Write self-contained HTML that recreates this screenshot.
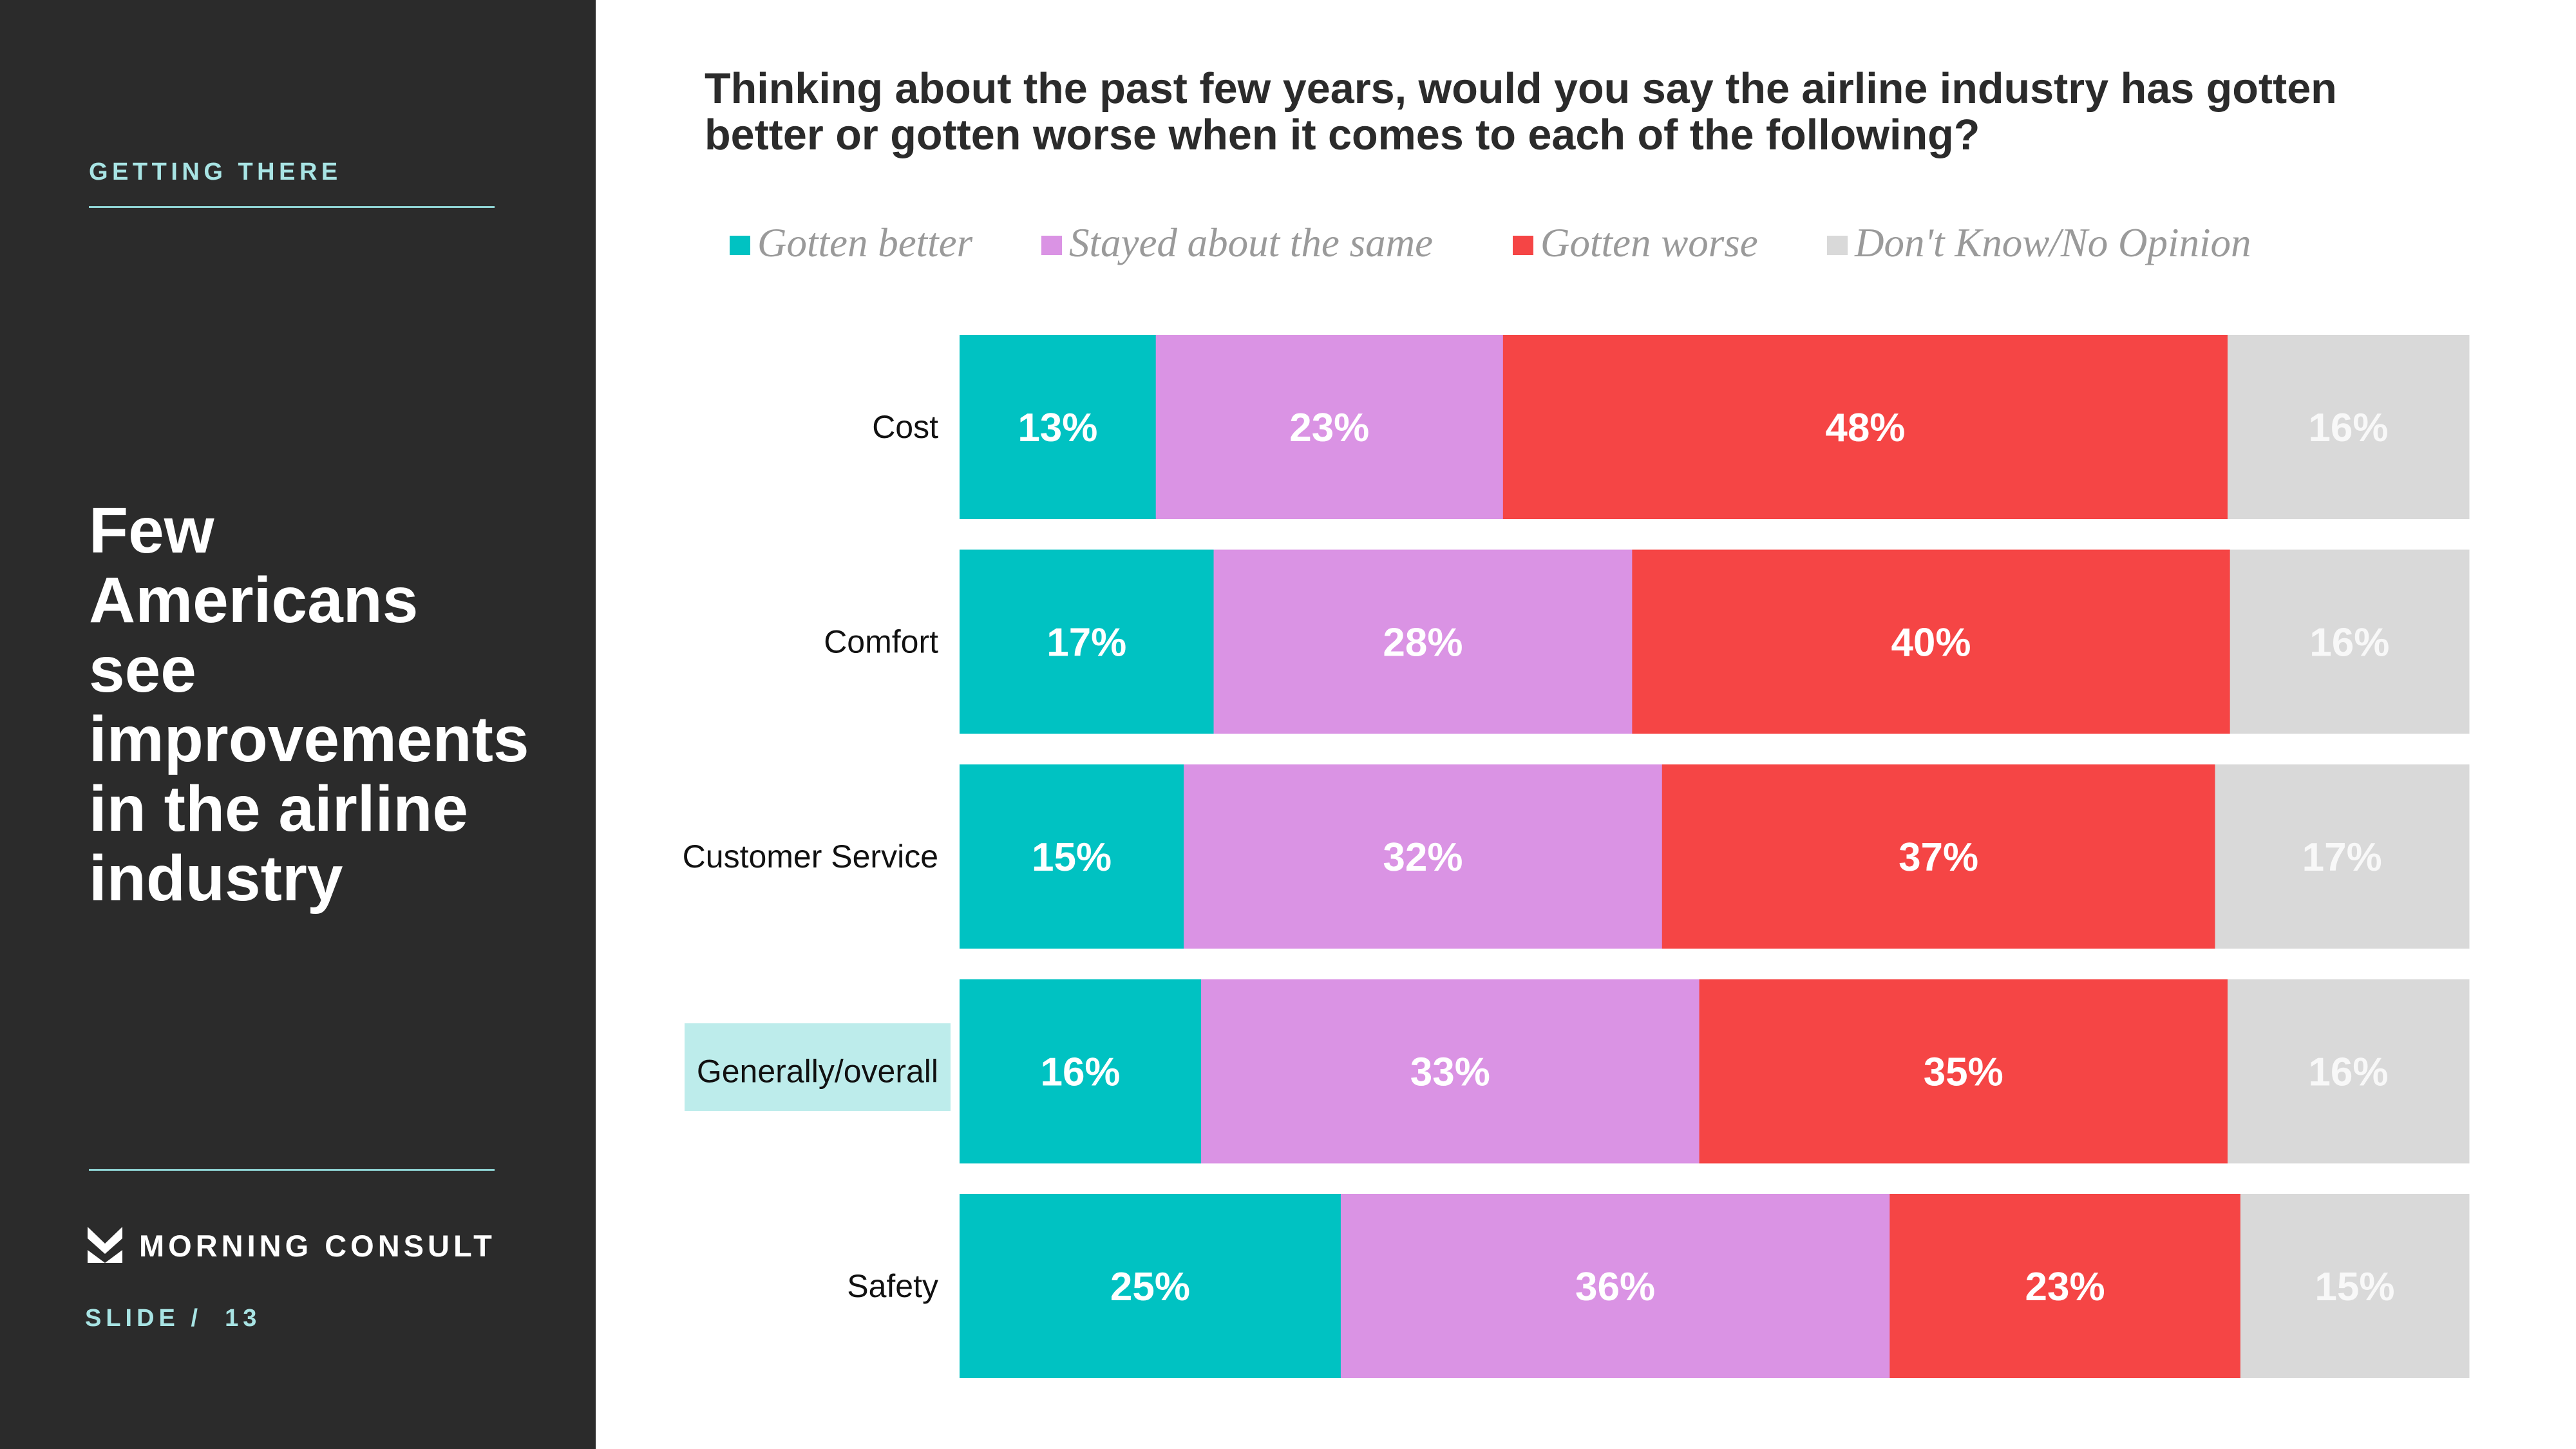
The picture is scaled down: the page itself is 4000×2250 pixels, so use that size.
<!DOCTYPE html>
<html><head><meta charset="utf-8"><style>
*{margin:0;padding:0;box-sizing:border-box}
body{width:4000px;height:2250px;background:#fff;font-family:"Liberation Sans",sans-serif;position:relative;overflow:hidden}
.abs{position:absolute}
</style></head><body>
<div class="abs" style="left:0;top:0;width:925px;height:2250px;background:#2b2b2b">
  <div class="abs" style="left:138px;top:246px;font-size:38px;font-weight:bold;letter-spacing:6.5px;color:#a8e4e4">GETTING THERE</div>
  <div class="abs" style="left:138px;top:320px;width:630px;height:3px;background:#8fd3d3"></div>
  <div class="abs" style="left:138px;top:770px;font-size:100px;line-height:108px;font-weight:bold;color:#fff">Few<br>Americans<br>see<br>improvements<br>in the airline<br>industry</div>
  <div class="abs" style="left:138px;top:1815px;width:630px;height:3px;background:#8fd3d3"></div>
  <svg class="abs" style="left:136px;top:1905px" width="54" height="56" viewBox="0 0 54 56"><polygon points="0,0 27,26 54,0 54,18 27,42 0,18" fill="#fff"/><polygon points="0,36 27,56 0,56" fill="#fff"/><polygon points="54,36 27,56 54,56" fill="#fff"/></svg>
  <div class="abs" style="left:216px;top:1907px;font-size:47px;font-weight:bold;letter-spacing:6px;color:#fff">MORNING CONSULT</div>
  <div class="abs" style="left:132px;top:2026px;font-size:38px;font-weight:bold;letter-spacing:7px;color:#a8e4e4">SLIDE / &nbsp;13</div>
</div>
<div class="abs" style="left:1094px;top:102px;font-size:66.5px;line-height:72px;font-weight:bold;color:#2b2b2b">Thinking about the past few years, would you say the airline industry has gotten<br>better or gotten worse when it comes to each of the following?</div>
<div class="abs" style="left:1063px;top:1589px;width:413px;height:136px;background:#bdeceb"></div>
<svg class="abs" id="chart" style="left:0;top:0" width="4000" height="2250"></svg>
<script>
const categories=["Cost","Comfort","Customer Service","Generally/overall","Safety"];
const seriesNames=["Gotten better","Stayed about the same","Gotten worse","Don't Know/No Opinion"];
const better=[13,17,15,16,25];
const same=[23,28,32,33,36];
const worse=[48,40,37,35,23];
const dontKnow=[16,16,17,16,15];
const colors=["#00c2c2","#da93e4","#f54545","#d9d9d9"];
const series=[better,same,worse,dontKnow];
const svg=document.getElementById('chart');
const NS='http://www.w3.org/2000/svg';
const X0=1490,X1=3834,Y0=520,BH=286,STEP=333.5;
function xs(v,tot){return (X1-X0)*v/tot;}
function yRow(i){return Y0+i*STEP;}
function mk(t,a){const e=document.createElementNS(NS,t);for(const k in a)e.setAttribute(k,a[k]);svg.appendChild(e);return e;}
const legX=[1133,1617,2349,2837];
seriesNames.forEach((n,s)=>{
  const r=mk('rect',{x:legX[s],y:366,width:32,height:30,fill:colors[s]});
  
  
  const t=mk('text',{x:legX[s]+43,y:398,'font-size':63,'font-style':'italic','font-family':'"Liberation Serif",serif',fill:'#9a9a9a'});
  t.textContent=n;
  
  
});
categories.forEach((c,i)=>{
  const y=yRow(i);
  const lab=mk('text',{x:1457,y:y+BH/2+17,'text-anchor':'end','font-size':50,fill:'#111'});
  lab.textContent=c;
  
  
  const tot=series.reduce((a,s)=>a+s[i],0);
  let x=X0;
  series.forEach((s,k)=>{
    const w=xs(s[i],tot);
    const r=mk('rect',{x:x,y:y,width:w+0.5,height:BH,fill:colors[k]});
    
    
    const t=mk('text',{x:x+w/2,y:y+BH/2+22,'text-anchor':'middle','font-size':62,'font-weight':'bold',fill:k==3?'#f8f8f8':'#fff'});
    t.textContent=s[i]+'%';
    
    
    x+=w;
  });
});
</script>
</body></html>
